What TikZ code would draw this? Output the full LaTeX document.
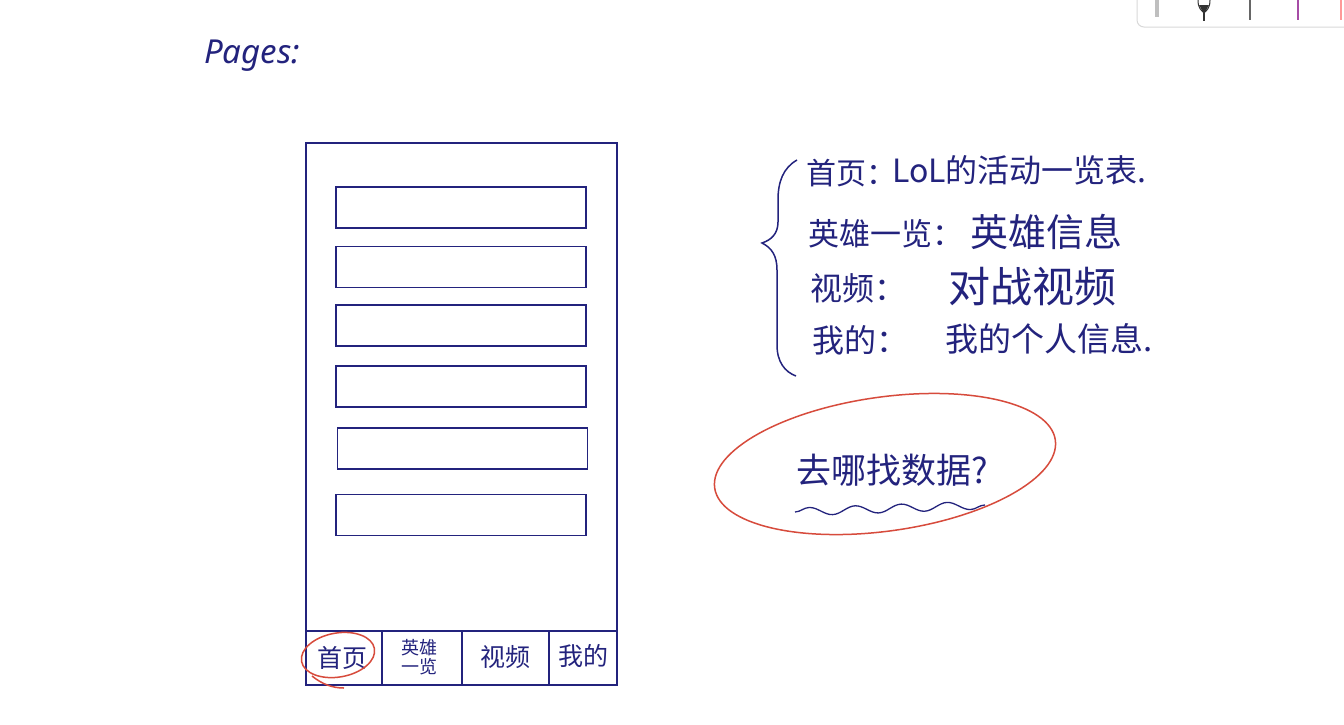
\documentclass[tikz,border=0pt]{standalone}
\usepackage{fontspec}
\setmainfont{Noto Sans}
\newfontfamily\cjk{Noto Sans CJK SC}
\usetikzlibrary{decorations.pathmorphing}
\definecolor{ink}{RGB}{35,35,125}
\definecolor{redink}{RGB}{215,75,60}
\begin{document}
\begin{tikzpicture}[x=1pt,y=-1pt,
  box/.style={draw=ink,line width=1.8pt,minimum width=250pt,minimum height=41pt,inner sep=0pt},
  hand/.style={text=ink,inner sep=0pt,font=\cjk},
  tab/.style={text=ink,inner sep=0pt,font=\cjk\fontsize{25}{25}\selectfont},
  redpen/.style={draw=redink,line width=1.5pt}]
\useasboundingbox (0,0) rectangle (1344,724);
\fill[white] (0,0) rectangle (1344,724);
% toolbar (top right)
\draw[black!15,line width=1pt,fill=white,rounded corners=7pt] (1137,-12) rectangle (1365,27);
\draw[black!25,line width=4pt] (1157,0) -- (1157,17);
\draw[black!80,line width=1pt] (1198,0) .. controls (1198,8) and (1201,10) .. (1204,13) .. controls (1207,10) and (1210,8) .. (1210,0);
\fill[black!80] (1199,5) -- (1209,5) -- (1204,14) -- cycle;
\draw[black!80,line width=1.2pt] (1204,13) -- (1204,21);
\draw[black!60,line width=1.2pt] (1250,0) -- (1250,20);
\draw[violet!70,line width=1.2pt] (1298,0) -- (1298,20);
\draw[red!40,line width=1.2pt] (1341,0) -- (1341,20);
% title
\node[text=ink,inner sep=0pt,font=\fontsize{33}{33}\selectfont\itshape] (title) at (252,56) {Pages:};
% phone
\node[draw=ink,line width=1.8pt,minimum width=311pt,minimum height=542pt,inner sep=0pt] (phone) at (461.5,414) {};
\node[box] (b1) at (461,207.5) {};
\node[box] (b2) at (461,267) {};
\node[box] (b3) at (461,325.5) {};
\node[box] (b4) at (461,386.5) {};
\node[box] (b5) at (462.5,448.5) {};
\node[box] (b6) at (461,515) {};
% tab bar
\coordinate (tl) at (306,631);
\coordinate (tr) at (617,631);
\draw[ink,line width=1.8pt] (tl) -- (tr);
\foreach \x/\n in {382/d1,462/d2,549/d3}{
  \coordinate (\n t) at (\x,631);
  \coordinate (\n b) at (\x,685);
  \draw[ink,line width=1.6pt] (\n t) -- (\n b);
}
\node[tab] (t1) at (342,658) {首页};
\node[tab,align=center,font=\cjk\fontsize{18}{19}\selectfont] (t2) at (419,657) {英雄\\一览};
\node[tab] (t3) at (505,657) {视频};
\node[tab] (t4) at (583,656) {我的};
\draw[redpen,rotate around={10:(338,655)}] (338,655) ellipse [x radius=37, y radius=22];
\draw[redpen] (312,676) .. controls (322,684) and (332,688) .. (344,688);
% brace
\draw[ink,line width=1.5pt] (797,160) .. controls (783,168) and (778,182) .. (778,200) -- (778,222) .. controls (778,234) and (771,240) .. (762,243) .. controls (772,248) and (777,256) .. (777,270) -- (777,345) .. controls (777,362) and (785,372) .. (796,376);
% description lines
\node[hand,anchor=west,font=\cjk\fontsize{30}{30}\selectfont] (l1a) at (806,173) {首页：};
\node[hand,anchor=west,font=\cjk\fontsize{32}{32}\selectfont] (l1b) at (892,170) {LoL的活动一览表.};
\node[hand,anchor=west,font=\cjk\fontsize{31}{31}\selectfont] (l2a) at (808,234) {英雄一览：};
\node[hand,anchor=west,font=\cjk\fontsize{38}{38}\selectfont] (l2b) at (970,232) {英雄信息};
\node[hand,anchor=west,font=\cjk\fontsize{32}{32}\selectfont] (l3a) at (810,288) {视频：};
\node[hand,anchor=west,font=\cjk\fontsize{42}{42}\selectfont] (l3b) at (948,287) {对战视频};
\node[hand,anchor=west,font=\cjk\fontsize{32}{32}\selectfont] (l4a) at (812,340) {我的：};
\node[hand,anchor=west,font=\cjk\fontsize{33}{33}\selectfont] (l4b) at (945,339) {我的个人信息.};
% question
\draw[redpen,rotate around={8:(885,464)}] (885,464) ellipse [x radius=172, y radius=67];
\node[hand,font=\cjk\fontsize{35}{35}\selectfont] (q) at (892,470) {去哪找数据?};
\coordinate (w1) at (795,512);
\coordinate (w2) at (985,505);
\draw[ink,line width=1.3pt,decorate,decoration={snake,amplitude=4pt,segment length=46pt}] (w1) -- (w2);
\end{tikzpicture}
\end{document}
